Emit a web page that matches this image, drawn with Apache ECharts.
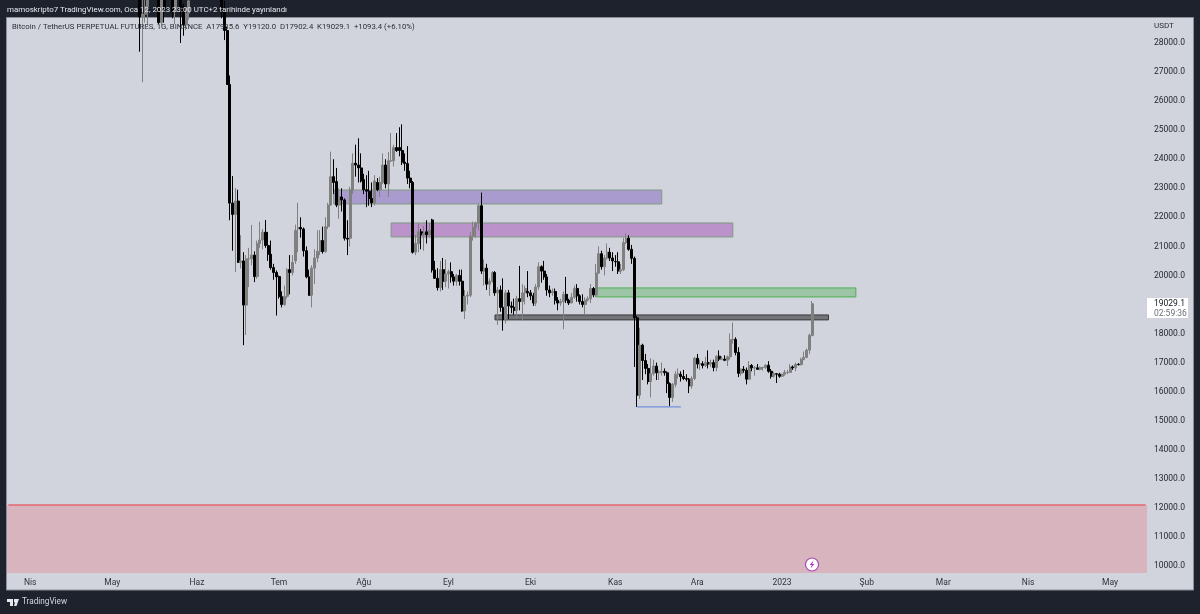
<!DOCTYPE html>
<html>
<head>
<meta charset="utf-8">
<style>
html, body { margin: 0; padding: 0; background: #1e222d; }
#chart { width: 1200px; height: 614px; }
</style>
<script src="https://cdn.jsdelivr.net/npm/echarts@6/dist/echarts.min.js"></script>
</head>
<body>
<div id="chart"></div>
<script>
// daily candles, each row: open, high, low, close
var may22 = [ // from May 9
    [34000,34200,30000,30050],[30050,32600,29700,31000],[31000,32100,27700,28900],[28900,30100,26650,28990],
    [28990,30950,28700,29250],[29250,30300,28600,30050],[30050,31400,29450,31280],[31280,31300,29050,29850],
    [29850,30780,29400,30400],[30400,30650,28650,28700],[28700,30500,28600,30280],[30280,30750,28700,29170],
    [29170,29600,28900,29420],[29420,30450,29200,30270],[30270,30650,28850,29080],[29080,29800,28650,29530],
    [29530,30200,29300,29520],[29520,29850,28000,29250],[29250,29350,28250,28620],[28620,29200,28450,29020],
    [29020,29550,28800,29450],[29450,32200,29300,31700],[31700,32400,31200,31800]
];
var jun22 = [
    [31800,31950,29300,29800],[29800,30650,29600,30450],[30450,30700,29300,29700],[29700,29950,29450,29860],
    [29860,30150,29500,29900],[29900,31700,29900,31350],[31350,31550,29200,31120],[31120,31300,29850,30200],
    [30200,30700,29950,30100],[30100,30350,28850,29070],[29070,29450,28100,28430],[28430,28550,26560,26570],
    [26570,26880,21900,22490],[22490,23420,20850,22100],[22100,23010,20120,22560],[22560,22950,20430,20450],
    [20450,21390,20240,20500],[20500,20800,17600,18980],[18980,20700,17950,20570],[20570,20950,19600,20570],
    [20570,21740,20350,20700],[20700,20830,19770,19960],[19960,21200,19880,21100],[21100,21850,20950,21220],
    [21220,21600,20900,21490],[21490,21910,20950,21030],[21030,21500,20500,20730],[20730,21200,20200,20270],
    [20270,20400,19850,20100],[20100,20170,18620,19950]
];
var jul22 = [
    [19960,20000,19200,19270],[19270,19450,18900,19000],[19000,19650,18950,19280],[19280,20250,19200,20200],
    [20200,20700,19350,20100],[20100,20700,20000,20450],[20500,21750,20400,21550],[21600,22500,20800,21650],
    [21650,22000,21300,21600],[21600,21650,20650,20850],[20850,21000,19900,19950],[19950,20200,19300,19320],
    [19320,20350,18900,20250],[20250,20900,19700,20600],[20600,21550,20450,20830],[20830,21565,20700,21200],
    [21200,21680,20750,20820],[20820,22000,20780,21680],[21680,22500,21600,22420],[22420,24260,22400,23400],
    [23400,24000,22800,23200],[23230,23700,22350,22420],[22420,23000,21950,22700],[22700,23000,22200,22600],
    [22600,22650,21200,21280],[21280,21900,20700,21250],[21280,23050,21000,22940],[22940,24200,22800,23860],
    [23860,24500,23400,23800],[23800,24720,23200,23700],[23700,24200,23200,23250]
];
var aug22 = [
    [23300,23500,22800,22950],[22950,23450,22350,22900],[22900,23600,22400,22650],[22650,23200,22350,22500],
    [22500,23450,22400,23250],[23200,23350,22900,22950],[22950,23400,22700,23200],[23200,24200,23150,23800],
    [23800,24000,23000,23150],[23150,24250,22700,23950],[23950,24900,23900,23950],[23950,24500,23750,24400],
    [24400,24900,24250,24300],[24400,25100,24100,24300],[24300,25200,23800,23900],[23900,24200,23600,23850],
    [23850,24450,23150,23350],[23350,23600,23000,23200],[23200,23250,20750,20800],[20800,21400,20700,21100],
    [21100,21800,20800,21500],[21500,21600,20900,21400],[21400,21700,20850,21450],[21500,21900,21100,21400],
    [21400,21800,21300,21550],[21910,21950,20100,20190],[20190,20500,19900,19900],[19900,20250,19480,19580],
    [19580,20500,19450,20200],[20200,20600,19500,19800],[19800,20550,19600,20050]
];
var sep22 = [
    [20050,20200,19550,20130],[20130,20450,19750,19950],[19950,20050,19650,19800],[19800,20050,19650,20000],
    [20000,20200,19650,19800],[19800,20200,18750,18780],[18780,19500,18500,19290],[19290,19450,19000,19320],
    [19320,21500,19250,21350],[21350,21850,21200,21650],[21650,21850,21300,21800],[21800,22450,21550,22400],
    [22400,22850,20050,20150],[20150,20550,19650,20250],[20250,20400,19500,19700],[19700,19900,19300,19800],
    [19800,20150,19750,20100],[20100,20150,19300,19400],[19400,19600,18300,19500],[19500,19650,18750,18900],
    [18900,19900,18100,18480],[18480,19500,18350,19400],[19400,19500,18500,18950],[18950,19100,18700,18900],
    [18900,19200,18650,18800],[18800,19300,18500,19200],[19200,20330,18800,19100],[19100,19700,18450,19400],
    [19400,19650,19000,19550],[19450,20150,19250,19400]
];
var oct22 = [
    [19400,19500,19150,19300],[19300,19400,18950,19050],[19050,19700,18950,19600],[19600,20450,19500,20300],
    [20300,20350,19750,20150],[20150,20500,19850,19950],[19950,20050,19300,19500],[19500,19650,19250,19400],
    [19400,19550,19300,19450],[19450,19550,19000,19150],[19150,19250,18800,19050],[19050,19200,18950,19100],
    [19100,19450,18150,19350],[19350,19950,19050,19150],[19150,19200,18980,19050],[19050,19400,19050,19250],
    [19250,19650,19200,19550],[19550,19700,19100,19300],[19300,19350,19000,19100],[19100,19350,18900,19000],
    [19000,19250,18650,19150],[19150,19280,19100,19200],[19200,19700,19050,19550],[19550,19600,19250,19330],
    [19330,20400,19250,20080],[20080,21000,20050,20750],[20750,20850,20200,20300],[20300,20700,20000,20600],
    [20600,21100,20550,20800],[20800,20950,20500,20600],[20600,20800,20150,20500]
];
var nov22 = [
    [20480,20700,20300,20470],[20470,20800,20050,20150],[20150,20400,20050,20200],[20200,21300,20150,21130],
    [21130,21450,21080,21280],[21280,21380,20850,20900],[20900,21050,20400,20590],[20590,20650,16850,18540],
    [18540,18600,15475,15880],[15880,18200,15750,17600],[17600,17650,16400,17070],[17070,17300,16600,16800],
    [16800,16950,16250,16350],[16350,17150,15800,16620],[16620,17100,16550,16880],[16880,17000,16400,16650],
    [16650,16750,16400,16680],[16680,17000,16550,16700],[16700,16800,16550,16650],[16650,16700,15950,16280],
    [16280,16320,15500,15800],[15800,16300,15650,16250],[16250,16700,16150,16600],[16600,16800,16450,16610],
    [16600,16700,16350,16520],[16520,16750,16400,16450],[16450,16600,16350,16430],[16430,16470,15950,16200],
    [16200,16530,16100,16450],[16450,17200,16400,17150]
];
var dec22 = [
    [17150,17300,16800,16950],[16950,17100,16750,16960],[16960,17050,16800,16900],[16900,17200,16850,17000],
    [17000,17420,16800,16950],[16950,17100,16850,17000],[17000,17100,16700,16830],[16830,17250,16700,17220],
    [17220,17420,17050,17120],[17120,17220,17080,17130],[17120,17250,17050,17080],[17080,17240,16880,17200],
    [17200,18000,17100,17780],[17780,18380,17650,17800],[17800,17870,17250,17350],[17350,17530,16500,16630],
    [16630,16800,16550,16770],[16770,16880,16650,16740],[16740,16830,16250,16430],[16430,17050,16400,16900],
    [16900,16950,16700,16820],[16820,16880,16550,16830],[16820,16950,16750,16770],[16770,16870,16730,16830],
    [16830,16850,16720,16840],[16830,16950,16780,16910],[16910,17050,16650,16700],[16700,16780,16450,16530],
    [16530,16680,16480,16620],[16620,16640,16300,16600],[16600,16650,16480,16530]
];
var jan23 = [ // up to Jan 12
    [16530,16620,16500,16600],[16600,16750,16550,16660],[16660,16750,16600,16670],[16660,16950,16650,16850],
    [16850,16900,16750,16820],[16820,17000,16700,16940],[16940,16980,16900,16930],[16930,17170,16900,17110],
    [17110,17380,17080,17180],[17180,17480,17150,17430],[17430,18000,17300,17940],[17935.6,19120,17902.4,19029.1]
];
var firstCandle = '2022-05-09';

// axis
var priceTicks = [10000,11000,12000,13000,14000,15000,16000,17000,18000,19000,
    20000,21000,22000,23000,24000,25000,26000,27000,28000];
var tickDates = ['2022-04-01','2022-05-01','2022-06-01','2022-07-01','2022-08-01','2022-09-01','2022-10-01',
    '2022-11-01','2022-12-01','2023-01-01','2023-02-01','2023-03-01','2023-04-01','2023-05-01'];
var tickNames = ['Nis','May','Haz','Tem','Ağu','Eyl','Eki','Kas','Ara','2023','Şub','Mar','Nis','May'];

// drawn rectangles: from date, to date, top price, bottom price
var purpleZone = ['2022-07-21','2022-11-18',22940,22460];
var pinkZone = ['2022-08-11','2022-12-14',21806,21324];
var greenZone = ['2022-10-25','2023-01-28',19570,19260];
var blackZone = ['2022-09-18','2023-01-18',18640,18470];
var redLevel = 12100;
var blueLine = ['2022-11-09','2022-11-25',15475];

var lastPrice = '19029.1';
var countdown = '02:59:36';
var headerText = 'mamoskripto7 TradingView.com, Oca 12, 2023 23:00 UTC+2 tarihinde yayınlandı';
var legendText = 'Bitcoin / TetherUS PERPETUAL FUTURES, 1G, BINANCE  A17935.6  Y19120.0  D17902.4  K19029.1  +1093.4 (+6.10%)';

var font = 'Roboto';

// one category per day, Mar 24 2022 .. May 14 2023
var categories = [];
(function(){
    var d = new Date(Date.UTC(2022, 2, 24));
    var end = Date.UTC(2023, 4, 14);
    while (d.getTime() <= end){
        categories.push(d.toISOString().slice(0, 10));
        d = new Date(d.getTime() + 86400000);
    }
})();

// empty rows for the days before the first candle
var candleData = [];
var startIndex = categories.indexOf(firstCandle);
for (var i = 0; i < startIndex; i++){
    candleData.push(['-', '-', '-', '-']);
}
[].concat(may22, jun22, jul22, aug22, sep22, oct22, nov22, dec22, jan23).forEach(function(r){
    candleData.push([r[0], r[3], r[2], r[1]]);
});

function zoneItem(z, fill, border){
    return [
        {xAxis: z[0], yAxis: z[2], itemStyle: {color: fill, borderColor: border, borderWidth: 1}},
        {xAxis: z[1], yAxis: z[3]}
    ];
}

var myChart = echarts.init(document.getElementById('chart'));
var option = {
    animation: false,
    backgroundColor: '#1e222d',
    grid: {left: 7, right: 53, top: 18, bottom: 41, containLabel: false},
    xAxis: {
        type: 'category',
        data: categories,
        boundaryGap: true,
        axisLine: {show: false},
        axisTick: {show: false},
        splitLine: {show: false},
        axisLabel: {
            interval: function(i, v){ return tickDates.indexOf(v) >= 0; },
            formatter: function(v){ return tickNames[tickDates.indexOf(v)]; },
            color: '#2f323c',
            fontFamily: font,
            fontSize: 8.5,
            margin: 5
        }
    },
    yAxis: {
        type: 'value',
        position: 'right',
        min: 9759,
        max: 28860,
        scale: true,
        axisLine: {show: false},
        axisTick: {show: false},
        splitLine: {show: false},
        axisLabel: {
            customValues: priceTicks,
            formatter: function(v){ return v.toFixed(1); },
            color: '#1f2229',
            fontFamily: font,
            fontSize: 8.5,
            margin: 7,
            padding: [2, 0, 0, 0]
        }
    },
    series: [
        {
            type: 'candlestick',
            data: candleData,
            barWidth: 2.5,
            clip: true,
            z: 2,
            itemStyle: {color: '#808080', color0: '#000000', borderColor: '#808080', borderColor0: '#000000', borderWidth: 1}
        },
        {
            // rectangles sit above the candles, the way the drawing tools do
            type: 'line',
            data: [],
            z: 3,
            silent: true,
            markArea: {
                silent: true,
                data: [
                    zoneItem(purpleZone, 'rgba(103,58,183,0.37)', '#7f9a80'),
                    zoneItem(pinkZone, 'rgba(156,39,176,0.38)', '#7f9a80'),
                    zoneItem(greenZone, 'rgba(76,175,80,0.4)', '#4caf50'),
                    zoneItem(blackZone, 'rgba(0,0,0,0.45)', '#3a3a3a'),
                    [
                        {x: 7, yAxis: redLevel, itemStyle: {color: 'rgba(242,54,69,0.2)', borderWidth: 0}},
                        {x: 1147, yAxis: 9759}
                    ]
                ]
            }
        },
        {
            // red level across the whole plot
            type: 'line',
            data: [[categories[0], redLevel], [categories[categories.length - 1], redLevel]],
            z: 4,
            silent: true,
            showSymbol: false,
            lineStyle: {color: '#f23645', width: 1}
        },
        {
            // low marker under the November drop
            type: 'line',
            data: [[blueLine[0], blueLine[2]], [blueLine[1], blueLine[2]]],
            z: 4,
            silent: true,
            showSymbol: false,
            lineStyle: {color: '#5b7fdc', width: 1}
        }
    ],
    graphic: [
        // panel behind plot and axes
        {type: 'rect', z: -1, shape: {x: 6.5, y: 17.5, width: 1187, height: 572.5},
            style: {fill: '#d1d4dc', stroke: '#8a8e99', lineWidth: 1}},
        {type: 'text', z: 10, x: 7, y: 6, style: {text: headerText, fill: '#e6e8ee', font: '7.9px ' + font}},
        {type: 'text', z: 10, x: 12, y: 23, style: {text: legendText, fill: '#2a2e39', font: '7.75px ' + font}},
        {type: 'text', z: 10, x: 1154, y: 22, style: {text: 'USDT', fill: '#2a2e39', font: '8px ' + font}},
        // last price tag
        {type: 'rect', z: 10, shape: {x: 1147, y: 298, width: 41, height: 20}, style: {fill: '#ffffff'}},
        {type: 'text', z: 11, x: 1154, y: 299, style: {text: lastPrice, fill: '#131722', font: '8.5px ' + font}},
        {type: 'text', z: 11, x: 1154, y: 309, style: {text: countdown, fill: '#6a6d78', font: '8.5px ' + font}},
        // lightning badge
        {type: 'circle', z: 11, shape: {cx: 812, cy: 564.5, r: 6.5}, style: {fill: '#ffffff', stroke: '#ab47bc', lineWidth: 1.2}},
        {type: 'polygon', z: 12, shape: {points: [[813.5,560.5],[809.5,565],[811.7,565],[810.5,568.5],[814.5,564],[812.3,564]]}, style: {fill: '#ab47bc'}},
        // footer logo
        {type: 'polygon', z: 11, shape: {points: [[7,599],[13,599],[13,606],[10,606],[10,602],[7,602]]}, style: {fill: '#e6e8ee'}},
        {type: 'polygon', z: 11, shape: {points: [[14,599],[19,599],[16.5,606],[14,606],[15,602.5],[14,602.5]]}, style: {fill: '#e6e8ee'}},
        {type: 'text', z: 11, x: 22, y: 598, style: {text: 'TradingView', fill: '#d6d8de', font: '8.2px ' + font}}
    ]
};
myChart.setOption(option);
</script>
</body>
</html>
